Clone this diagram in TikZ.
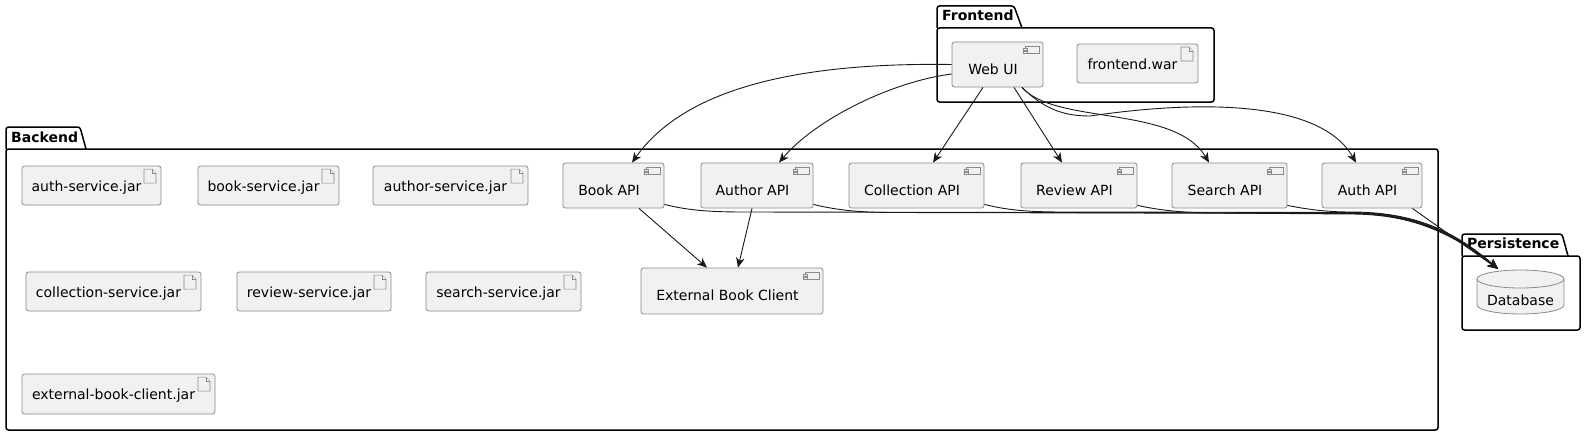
\documentclass[tikz,border=0pt]{standalone}
\usepackage{fontspec}
\setmainfont{DejaVu Sans}
\usetikzlibrary{arrows.meta,fit}
\definecolor{boxfill}{HTML}{F1F1F1}
\definecolor{boxline}{HTML}{8A8A8A}
\tikzset{
  boxst/.style={draw=boxline, fill=boxfill, line width=0.8pt, rounded corners=2.5pt, inner sep=0pt},
  lbl/.style={font=\fontsize{14pt}{16pt}\selectfont, inner sep=0pt},
  tablbl/.style={font=\bfseries\fontsize{14pt}{16pt}\selectfont, inner sep=0pt, anchor=base west},
  iconst/.style={draw=boxline, fill=boxfill, line width=0.7pt},
  pkg/.style={draw=black, line width=1.5pt, rounded corners=2.5pt},
  arr/.style={draw=black!90, line width=0.9pt, -{Stealth[length=10pt,width=8.5pt,inset=3pt]}},
}
\newcommand{\compbox}[6]{%
  \node[boxst, fit={(#2,#3) (#4,#5)}] (#1) {};
  \node[lbl, anchor=base] (#1-t) at ([shift={(-4.5,32.5)}]#1.north) {#6};
  \draw[iconst] ([shift={(-18.5,5)}]#1.north east) rectangle ([shift={(-4,12)}]#1.north east);
  \draw[iconst] ([shift={(-20.5,6.5)}]#1.north east) rectangle ([shift={(-16.5,8.5)}]#1.north east);
  \draw[iconst] ([shift={(-20.5,9.5)}]#1.north east) rectangle ([shift={(-16.5,11.5)}]#1.north east);
}
\newcommand{\artbox}[6]{%
  \node[boxst, fit={(#2,#3) (#4,#5)}] (#1) {};
  \node[lbl, anchor=base] (#1-t) at ([shift={(-5,26)}]#1.north) {#6};
  \draw[iconst] ([shift={(-17.5,3.5)}]#1.north east) -- ([shift={(-9.5,3.5)}]#1.north east) -- ([shift={(-5.5,7.5)}]#1.north east) -- ([shift={(-5.5,17.5)}]#1.north east) -- ([shift={(-17.5,17.5)}]#1.north east) -- cycle;
  \draw[iconst] ([shift={(-9.5,3.5)}]#1.north east) -- ([shift={(-9.5,7.5)}]#1.north east) -- ([shift={(-5.5,7.5)}]#1.north east);
}
\begin{document}
\begin{tikzpicture}[x=1pt,y=-1pt]
\fill[white] (0,0) rectangle (1586,436);
\path[use as bounding box] (0,0) rectangle (1586,436);

% packages
\draw[pkg] (937,28) -- (937,6) -- (1014,6) -- (1022,28);
\draw[pkg] (937,28) rectangle (1214,102);
\node[tablbl] (fe-tab) at (942,21) {Frontend};

\draw[pkg] (6,149) -- (6,127) -- (80,127) -- (86,149);
\draw[pkg] (6,149) rectangle (1438,430);
\node[tablbl] (be-tab) at (11,142) {Backend};

\draw[pkg] (1462,256) -- (1462,234) -- (1562,234) -- (1568,256);
\draw[pkg] (1462,256) rectangle (1580,330);
\node[tablbl] (pe-tab) at (1467,248) {Persistence};

% frontend
\compbox{webui}{952}{42}{1043}{87}{Web UI}
\artbox{fwar}{1077}{44}{1198}{83}{frontend.war}

% backend components
\compbox{book}{563}{163}{664}{208}{Book API}
\compbox{author}{701}{163}{813}{208}{Author API}
\compbox{coll}{849}{163}{984}{208}{Collection API}
\compbox{review}{1021}{163}{1137}{208}{Review API}
\compbox{search}{1172}{163}{1287}{208}{Search API}
\compbox{auth}{1322}{163}{1422}{208}{Auth API}
\compbox{ext}{641}{268}{823}{314}{External Book Client}

% artifacts
\artbox{a1}{22}{166}{161}{205}{auth-service.jar}
\artbox{a2}{198}{166}{339}{205}{book-service.jar}
\artbox{a3}{373}{166}{528}{205}{author-service.jar}
\artbox{a4}{26}{272}{201}{311}{collection-service.jar}
\artbox{a5}{237}{272}{391}{311}{review-service.jar}
\artbox{a6}{426}{272}{581}{311}{search-service.jar}
\artbox{a7}{22}{374}{215}{414}{external-book-client.jar}

% database
\fill[boxfill] (1477,279) -- (1477,305) arc[start angle=180,end angle=360,x radius=43.5pt,y radius=9pt] -- (1564,279) arc[start angle=0,end angle=180,x radius=43.5pt,y radius=9pt] -- cycle;
\draw[draw=boxline, line width=0.8pt] (1477,279) -- (1477,305) arc[start angle=180,end angle=360,x radius=43.5pt,y radius=9pt] -- (1564,279) arc[start angle=0,end angle=180,x radius=43.5pt,y radius=9pt] -- cycle;
\draw[draw=boxline, line width=0.8pt] (1477,279) arc[start angle=180,end angle=360,x radius=43.5pt,y radius=9pt];
\node[inner sep=0pt, fit={(1477,270) (1564,314)}] (db) {};
\node[lbl, anchor=base] (db-t) at (1520.5,305) {Database};

% web ui arrows
\draw[arr] (webui.west) .. controls (780,62) and (680,95) .. ([shift={(18.5,0)}]book.north);
\draw[arr] ([shift={(0,9.5)}]webui.west) .. controls (890,82) and (815,120) .. ([shift={(22,0)}]author.north);
\draw[arr] ([shift={(-14.5,0)}]webui.south) -- ([shift={(16.5,0)}]coll.north);
\draw[arr] ([shift={(16.5,0)}]webui.south) -- ([shift={(-17,0)}]review.north);
\draw[arr] ([shift={(24.5,0)}]webui.south) .. controls (1055,125) and (1175,105) .. ([shift={(-20.5,0)}]search.north);
\draw[arr] ([shift={(24.5,0)}]webui.south) .. controls (1045,110) and (1065,116) .. (1090,116) .. controls (1200,100) and (1320,100) .. ([shift={(-16,0)}]auth.north);

% to database
\draw[arr] ([shift={(0,-4)}]book.south east) .. controls (690,211) and (715,212) .. (745,212) -- (1350,213) .. controls (1410,213) and (1450,230) .. ([shift={(-22.5,-1)}]db.north);
\draw[arr] ([shift={(0,-4)}]author.south east) .. controls (840,211) and (865,212.5) .. (895,212.5) -- (1350,213.5) .. controls (1410,213.5) and (1450,230.5) .. ([shift={(-22.5,-1)}]db.north);
\draw[arr] ([shift={(0,-4)}]coll.south east) .. controls (1010,211) and (1035,212) .. (1065,212) -- (1350,212.5) .. controls (1411,212.5) and (1451,229.5) .. ([shift={(-22.5,-1)}]db.north);
\draw[arr] ([shift={(0,-3)}]review.south east) .. controls (1163,211) and (1188,213) .. (1218,213) -- (1350,214) .. controls (1409,214) and (1449,231) .. ([shift={(-22.5,-1)}]db.north);
\draw[arr] ([shift={(0,-3)}]search.south east) .. controls (1310,210) and (1330,212) .. (1350,212) .. controls (1412,212) and (1452,229) .. ([shift={(-22.5,-1)}]db.north);
\draw[arr] ([shift={(-10,0)}]auth.south east) -- ([shift={(-23,-1)}]db.north);

% to external client
\draw[arr] ([shift={(25.5,0)}]book.south) -- ([shift={(-25,0)}]ext.north);
\draw[arr] ([shift={(-5,0)}]author.south) -- ([shift={(6,0)}]ext.north);
\end{tikzpicture}
\end{document}
